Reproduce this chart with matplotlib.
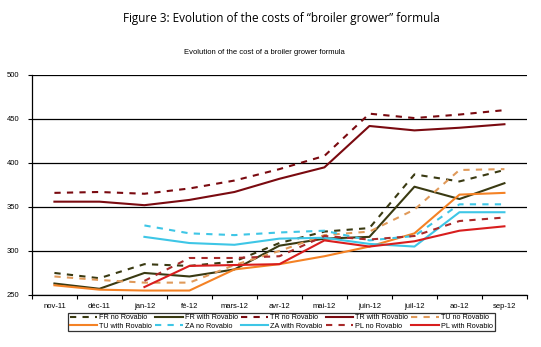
import matplotlib.pyplot as plt
from matplotlib.ticker import FixedLocator, NullFormatter

plt.rcParams['font.family'] = ['Liberation Sans', 'DejaVu Sans']

# mois (axe des catégories)
months = ['nov-11', 'déc-11', 'jan-12', 'fé-12', 'mars-12', 'avr-12',
          'mai-12', 'juin-12', 'juil-12', 'ao-12', 'sep-12']

# coûts par pays, avec / sans Rovabio
fr_no = [275, 269, 285, 283, 288, 309, 322, 326, 387, 379, 392]
fr_with = [263, 257, 275, 271, 279, 306, 314, 316, 373, 359, 377]
tr_no = [366, 367, 365, 371, 380, 393, 408, 456, 451, 455, 460]
tr_with = [356, 356, 352, 358, 367, 382, 395, 442, 437, 440, 444]
tu_no = [271, 267, 264, 264, 284, 300, 318, 322, 347, 392, 393]
tu_with = [261, 256, 255, 255, 279, 285, 294, 305, 320, 364, 366]
za_no = [None, None, 329, 320, 318, 321, 323, 312, 317, 353, 353]
za_with = [None, None, 316, 309, 307, 314, 315, 308, 305, 344, 344]
pl_no = [None, None, 266, 292, 292, 294, 317, 313, 317, 334, 338]
pl_with = [None, None, 259, 283, 284, 285, 312, 305, 311, 323, 328]

series = [
    ('FR no Rovabio', fr_no, '#3a3a12', True),
    ('FR with Rovabio', fr_with, '#3a3a12', False),
    ('TR no Rovabio', tr_no, '#7a0a10', True),
    ('TR with Rovabio', tr_with, '#7a0a10', False),
    ('TU no Rovabio', tu_no, '#e09a5a', True),
    ('TU with Rovabio', tu_with, '#f48225', False),
    ('ZA no Rovabio', za_no, '#3ec6e6', True),
    ('ZA with Rovabio', za_with, '#3ec6e6', False),
    ('PL no Rovabio', pl_no, '#a82a2a', True),
    ('PL with Rovabio', pl_with, '#d81e1e', False),
]

fig = plt.figure(figsize=(5.41, 3.47), dpi=100)
ax = fig.add_axes([0.059, 0.150, 0.915, 0.634])

x = list(range(len(months)))
handles = []
for label, vals, color, dashed in series:
    pts = [(i, v) for i, v in zip(x, vals) if v is not None]
    xs = [p[0] for p in pts]
    ys = [p[1] for p in pts]
    ls = (0, (3, 3)) if dashed else '-'
    h, = ax.plot(xs, ys, color=color, lw=1.5, linestyle=ls, label=label)
    handles.append(h)

ax.set_ylim(250, 500)
ax.set_xlim(-0.5, len(months) - 0.5)
ax.set_yticks([250, 300, 350, 400, 450, 500])
ax.yaxis.grid(True, color='black', lw=0.9)
ax.set_axisbelow(True)

ax.set_xticks(x)
ax.set_xticklabels(months)
ax.xaxis.set_minor_locator(FixedLocator([i - 0.5 for i in range(len(months) + 1)]))
ax.xaxis.set_minor_formatter(NullFormatter())
ax.tick_params(axis='x', which='major', length=0, pad=6, labelsize=5.5)
ax.tick_params(axis='x', which='minor', length=3, width=0.8)
ax.tick_params(axis='y', length=3, width=0.8, labelsize=5.5, pad=6)

for s in ['top', 'right']:
    ax.spines[s].set_visible(False)
ax.spines['left'].set_linewidth(0.9)
ax.spines['bottom'].set_linewidth(0.9)

# légende : 2 lignes de 5, remplies ligne par ligne
order = [0, 5, 1, 6, 2, 7, 3, 8, 4, 9]
leg = fig.legend([handles[i] for i in order], [series[i][0] for i in order],
                 ncol=5, loc='center', bbox_to_anchor=(0.52, 0.072),
                 fontsize=5.2, frameon=True, fancybox=False, edgecolor='black',
                 handlelength=3.8, handletextpad=0.3, columnspacing=0.4,
                 labelspacing=0.15, borderpad=0.25, borderaxespad=0)
leg.get_frame().set_linewidth(0.9)

fig.text(0.52, 0.948, 'Figure 3: Evolution of the costs of \u201cbroiler grower\u201d formula',
         ha='center', va='center', fontsize=8.5, family=['Open Sans', 'DejaVu Sans'])
fig.text(0.488, 0.848, 'Evolution of the cost of a broiler grower formula',
         ha='center', va='center', fontsize=5.5)

fig.savefig('out.png', dpi=100)
